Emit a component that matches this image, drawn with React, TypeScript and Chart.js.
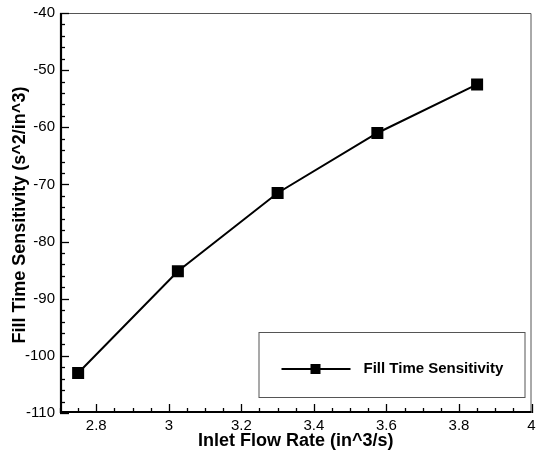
import React, { useEffect, useRef } from "react";
import { Chart, registerables } from "chart.js";

Chart.register(...registerables);

const seriesLabel = "Fill Time Sensitivity";
const xValues = [2.75, 3.025, 3.3, 3.575, 3.85];
const yValues = [-103, -85.2, -71.5, -61, -52.5];
const xTickValues = [2.8, 3, 3.2, 3.4, 3.6, 3.8, 4];
const yTickValues = [-110, -100, -90, -80, -70, -60, -50, -40];
const xTitle = "Inlet Flow Rate (in^3/s)";
const yTitle = "Fill Time Sensitivity (s^2/in^3)";

const FONT = "'Liberation Sans', Arial, Helvetica, sans-serif";

const framePlugin = {
  id: "framePlugin",
  beforeDatasetsDraw(chart: any) {
    const { ctx, chartArea } = chart;
    const { left, right, top, bottom } = chartArea;
    const xs = chart.scales.x;
    const ys = chart.scales.y;
    ctx.save();
    ctx.strokeStyle = "#555";
    ctx.lineWidth = 1;
    ctx.beginPath();
    ctx.moveTo(left, top + 0.5);
    ctx.lineTo(right - 0.5, top + 0.5);
    ctx.lineTo(right - 0.5, bottom);
    ctx.stroke();
    ctx.strokeStyle = "#000";
    ctx.lineWidth = 1.3;
    const xMinorStep = 0.05;
    for (let v = xs.min; v <= xs.max + 1e-9; v += xMinorStep) {
      const vv = Math.round(v * 1000) / 1000;
      const isMajor = xTickValues.some((t) => Math.abs(t - vv) < 1e-6);
      const px = Math.round(xs.getPixelForValue(vv)) + 0.5;
      const len = isMajor ? 9 : 5;
      ctx.beginPath();
      ctx.moveTo(px, bottom);
      ctx.lineTo(px, bottom - len);
      ctx.stroke();
    }
    const yMinorStep = 2;
    for (let v = ys.min; v <= ys.max + 1e-9; v += yMinorStep) {
      const isMajor = yTickValues.some((t) => Math.abs(t - v) < 1e-6);
      const py = Math.round(ys.getPixelForValue(v)) + 0.5;
      const len = isMajor ? 9 : 5;
      ctx.beginPath();
      ctx.moveTo(left, py);
      ctx.lineTo(left + len, py);
      ctx.stroke();
    }
    ctx.lineWidth = 2.2;
    ctx.beginPath();
    ctx.moveTo(left + 1, top);
    ctx.lineTo(left + 1, bottom - 1);
    ctx.lineTo(right, bottom - 1);
    ctx.stroke();
    ctx.restore();
  },
  afterDraw(chart: any) {
    const { ctx, chartArea } = chart;
    const { left, right, top, bottom } = chartArea;
    ctx.save();
    ctx.fillStyle = "#000";
    ctx.font = `bold 18px ${FONT}`;
    ctx.textAlign = "center";
    ctx.textBaseline = "middle";
    ctx.fillText(xTitle, (left + right) / 2, bottom + 28);
    ctx.save();
    ctx.translate(20, (top + bottom) / 2 + 2);
    ctx.rotate(-Math.PI / 2);
    ctx.fillText(yTitle, 0, 0);
    ctx.restore();
    const bx = right - 273;
    const by = bottom - 81;
    const bw = 266;
    const bh = 65;
    ctx.fillStyle = "#fff";
    ctx.fillRect(bx, by, bw, bh);
    ctx.strokeStyle = "#555";
    ctx.lineWidth = 1;
    ctx.strokeRect(bx + 0.5, by + 0.5, bw, bh);
    const ly = by + 37;
    ctx.strokeStyle = "#000";
    ctx.lineWidth = 2;
    ctx.beginPath();
    ctx.moveTo(bx + 23, ly);
    ctx.lineTo(bx + 92, ly);
    ctx.stroke();
    ctx.fillStyle = "#000";
    ctx.fillRect(bx + 57 - 5, ly - 5, 10, 10);
    ctx.font = `bold 15px ${FONT}`;
    ctx.textAlign = "left";
    ctx.textBaseline = "middle";
    const label = chart.data.datasets[0].label;
    ctx.fillText(label, bx + 105, ly);
    ctx.restore();
  },
};

function zeroPad(scale: any) {
  scale.paddingLeft = 0;
  scale.paddingRight = 0;
  scale.paddingTop = 0;
  scale.paddingBottom = 0;
}

export default function App() {
  const canvasRef = useRef<HTMLCanvasElement | null>(null);

  useEffect(() => {
    document.body.style.margin = "0";
    const canvas = canvasRef.current;
    if (!canvas) return;
    const chart = new Chart(canvas, {
      type: "scatter",
      data: {
        datasets: [
          {
            label: seriesLabel,
            data: xValues.map((x, i) => ({ x, y: yValues[i] })),
            showLine: true,
            borderColor: "#000",
            backgroundColor: "#000",
            borderWidth: 2,
            pointStyle: "rect",
            pointRadius: 8.5,
            pointHoverRadius: 8.5,
            pointBorderWidth: 0,
          },
        ],
      },
      options: {
        animation: false,
        responsive: false,
        devicePixelRatio: 1,
        layout: { padding: { left: 0, top: 13, right: 4, bottom: 0 } },
        plugins: {
          legend: { display: false },
          tooltip: { enabled: false },
        },
        scales: {
          x: {
            type: "linear",
            min: 2.7,
            max: 4,
            grid: { display: false, drawTicks: false },
            border: { display: false },
            afterBuildTicks: (scale: any) => {
              scale.ticks = xTickValues.map((v) => ({ value: v }));
            },
            afterFit: (scale: any) => {
              scale.height = 41;
              zeroPad(scale);
            },
            ticks: {
              padding: 4,
              color: "#000",
              maxRotation: 0,
              autoSkip: false,
              font: { family: FONT, size: 15 },
              callback: (v: any) => String(Number(Number(v).toFixed(2))),
            },
          },
          y: {
            type: "linear",
            min: -110,
            max: -40,
            grid: { display: false, drawTicks: false },
            border: { display: false },
            afterBuildTicks: (scale: any) => {
              scale.ticks = yTickValues.map((v) => ({ value: v }));
            },
            afterFit: (scale: any) => {
              scale.width = 60;
              zeroPad(scale);
            },
            ticks: {
              padding: 5,
              color: "#000",
              autoSkip: false,
              font: { family: FONT, size: 15 },
              callback: (v: any) => String(v),
            },
          },
        },
      },
      plugins: [framePlugin],
    });
    return () => chart.destroy();
  }, []);

  return (
    <div style={{ width: 540, height: 454 }}>
      <canvas ref={canvasRef} width={540} height={454} />
    </div>
  );
}
